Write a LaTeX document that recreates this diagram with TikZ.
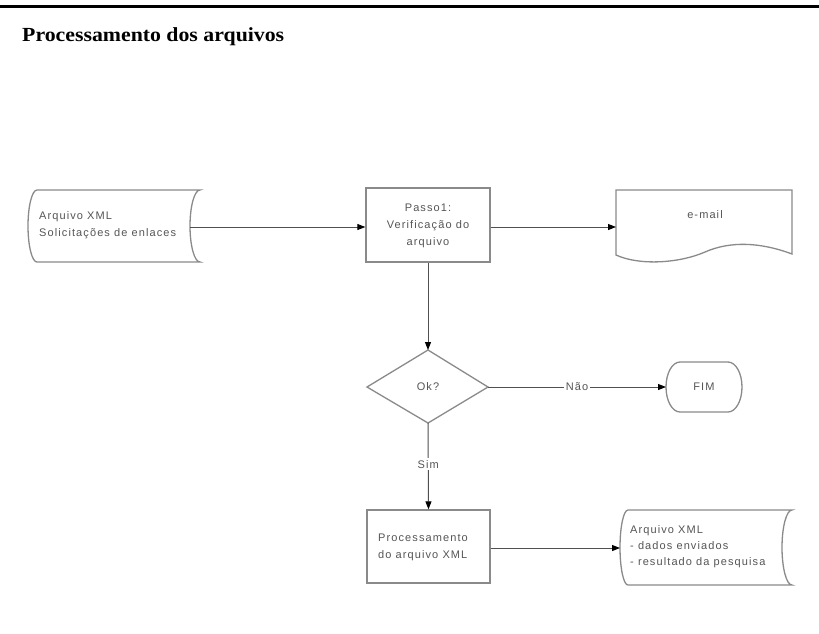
\documentclass[tikz,border=0pt]{standalone}
\usepackage{fontspec}
\usetikzlibrary{arrows.meta}
\newfontfamily\diagfont[LetterSpace=10]{Liberation Sans}
\newfontfamily\titlefont[FakeStretch=1.09]{Liberation Serif}
\definecolor{shapeline}{HTML}{8A8A8A}
\definecolor{connline}{HTML}{505050}
\definecolor{txt}{HTML}{555555}
\tikzset{
  shapebox/.style={draw=shapeline, line width=1.3pt, fill=white},
  conn/.style={draw=connline, line width=1pt, -{Triangle[length=8pt,width=6pt,color=black]}},
  lbl/.style={font=\diagfont\fontsize{11}{17}\selectfont, text=txt, inner sep=0pt},
  edgelbl/.style={lbl, fill=white, inner sep=2pt},
}
\begin{document}
\begin{tikzpicture}[x=1pt,y=-1pt]
\useasboundingbox (0,0) rectangle (819,633);
% top rule and title
\draw[line width=3pt] (0,6) -- (819,6);
\node[anchor=base west, inner sep=0pt, font=\titlefont\bfseries\fontsize{20}{22}\selectfont] (title) at (22,41) {Processamento dos arquivos};

% input stored data
\draw[shapebox] (37,190) -- (200,190) arc[start angle=270, end angle=90, x radius=10, y radius=36] -- (37,262) arc[start angle=90, end angle=270, x radius=9, y radius=36] -- cycle;
\node[lbl, anchor=west, align=left] (in) at (39,225) {Arquivo XML\\Solicitações de enlaces};
\coordinate (inR) at (190,227);

% Passo1
\node[shapebox, minimum width=124pt, minimum height=74pt, inner sep=0pt] (p1) at (428,225) {};
\node[lbl, align=center] (p1t) at (428,226) {Passo1:\\Verificação do\\arquivo};

% e-mail document
\draw[shapebox] (616,190) -- (792,190) -- (792,254)
  .. controls (760,242) and (730,241) .. (705,252)
  .. controls (680,263) and (640,266) .. (616,255) -- cycle;
\node[lbl] (mail) at (705,215) {e-mail};
\coordinate (mailL) at (616,227);

% diamond
\draw[shapebox] (428,350) -- (488,387) -- (428,423) -- (367,387) -- cycle;
\coordinate (dT) at (428,350);
\coordinate (dR) at (488,387);
\coordinate (dB) at (428,423);
\node[lbl] (ok) at (428,387) {Ok?};

% FIM terminal
\draw[shapebox] (680,362) -- (728,362) arc[start angle=-90, end angle=90, x radius=14, y radius=25] -- (680,412) arc[start angle=90, end angle=270, x radius=14, y radius=25] -- cycle;
\node[lbl] (fim) at (704,387) {FIM};
\coordinate (fimL) at (666,387);

% Processamento
\node[shapebox, minimum width=123pt, minimum height=73pt, inner sep=0pt] (proc) at (428.5,546.5) {};
\node[lbl, align=left, anchor=west] (proct) at (378,547) {Processamento\\do arquivo XML};

% output stored data
\draw[shapebox] (628,510) -- (792,510) arc[start angle=270, end angle=90, x radius=10, y radius=37.5] -- (628,585) arc[start angle=90, end angle=270, x radius=8, y radius=37.5] -- cycle;
\node[lbl, align=left, anchor=west, font=\diagfont\fontsize{11}{16}\selectfont] (out) at (630,547) {Arquivo XML\\- dados enviados\\- resultado da pesquisa};
\coordinate (outL) at (620,548);

% connectors
\draw[conn] (inR) -- (inR -| p1.west);
\draw[conn] (p1.east |- mailL) -- (mailL);
\draw[conn] (p1.south) -- (dT);
\draw[conn] (dR) -- node[edgelbl] (nao) {Não} (fimL);
\draw[conn] (dB) -- node[edgelbl, pos=0.48] (sim) {Sim} (proc.north);
\draw[conn] (proc.east |- outL) -- (outL);
\end{tikzpicture}
\end{document}
